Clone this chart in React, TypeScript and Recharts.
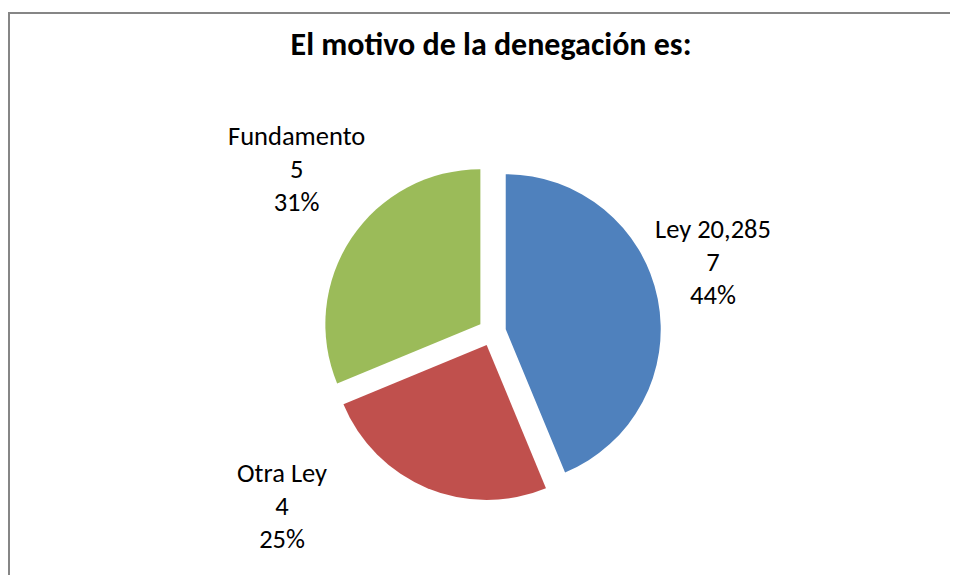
import { PieChart, Pie, Cell } from "recharts";

const CATEGORIES = ["Ley 20,285", "Otra Ley", "Fundamento"];
const COUNTS = [7, 4, 5];
const COLORS = ["#4F81BD", "#C0504D", "#9BBB59"];
const TITLE = "El motivo de la denegación es:";

const W = 942;
const H = 567;
const CX = 484;
const CY = 324;
const RADIUS = 155;
const EXPLODE = 14;
const FONT = "Carlito, Calibri, Lato, 'Open Sans', sans-serif";

// small hand nudges so labels sit where Excel's "best fit" put them
const LABEL_NUDGE: Record<string, [number, number]> = {
  "Ley 20,285": [-9.5, -15],
  "Otra Ley": [-120, -34],
  Fundamento: [0, -23],
};

const RAD = Math.PI / 180;
const data = CATEGORIES.map((name, i) => ({ name, value: COUNTS[i] }));
const total = COUNTS.reduce((a, b) => a + b, 0);

function sliceMid(i: number) {
  const before = COUNTS.slice(0, i).reduce((a, b) => a + b, 0);
  return 90 - (360 * (before + COUNTS[i] / 2)) / total;
}

const renderLabel = (slice: number) => (props: any) => {
  if (props.index !== slice) return null;
  const { cx, cy, midAngle, outerRadius, name, value, percent } = props;
  const r = outerRadius + 66;
  const [nx, ny] = LABEL_NUDGE[name] ?? [0, 0];
  const x = cx + r * Math.cos(-midAngle * RAD) + nx;
  const y = cy + r * Math.sin(-midAngle * RAD) + ny;
  return (
    <text x={x} y={y} textAnchor="middle" fill="#000" fontSize={26.5} fontFamily={FONT}>
      <tspan x={x} dy={-33}>{name}</tspan>
      <tspan x={x} dy={33}>{value}</tspan>
      <tspan x={x} dy={33}>{Math.round(percent * 100)}%</tspan>
    </text>
  );
};

export default function App() {
  return (
    <div style={{ position: "relative", width: W, height: H }}>
      {/* chart frame: only the left and top edges fall inside the picture */}
      <div
        style={{
          position: "absolute",
          left: 0,
          top: 4,
          right: -8,
          bottom: -8,
          borderLeft: "2px solid #868686",
          borderTop: "2px solid #868686",
        }}
      />
      <PieChart width={W} height={H} margin={{ top: 0, right: 0, bottom: 0, left: 0 }}>
        {CATEGORIES.map((cat, i) => {
          const m = sliceMid(i);
          return (
            <Pie
              key={cat}
              data={data}
              dataKey="value"
              nameKey="name"
              cx={CX + EXPLODE * Math.cos(m * RAD)}
              cy={CY - EXPLODE * Math.sin(m * RAD)}
              outerRadius={RADIUS}
              startAngle={90}
              endAngle={-270}
              stroke="none"
              labelLine={false}
              label={renderLabel(i)}
              isAnimationActive={false}
            >
              {data.map((d, j) => (
                <Cell key={d.name} fill={j === i ? COLORS[j] : "none"} stroke="none" />
              ))}
            </Pie>
          );
        })}
      </PieChart>
      <svg
        width={W}
        height={H}
        style={{ position: "absolute", left: 0, top: 0, pointerEvents: "none" }}
      >
        <text
          x={483}
          y={47}
          textAnchor="middle"
          fontSize={32}
          fontWeight="bold"
          fontFamily={FONT}
          fill="#000"
        >
          {TITLE}
        </text>
      </svg>
    </div>
  );
}
